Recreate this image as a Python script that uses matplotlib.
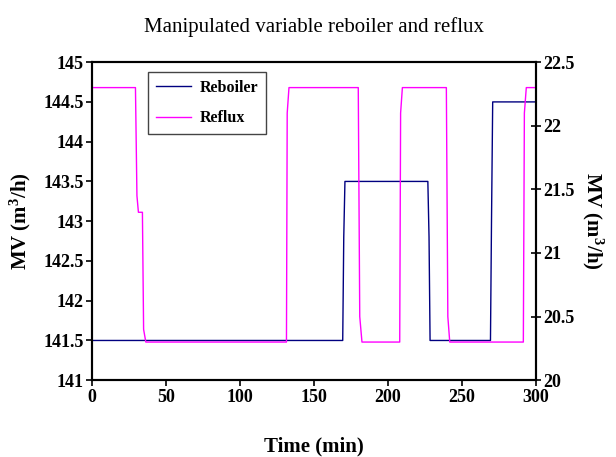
import matplotlib
matplotlib.use("Agg")
import matplotlib.pyplot as plt

# Data
reb_t = [0, 169.5, 170.2, 171, 227, 227.8, 228.5, 269.3, 270, 270.8, 300]
reb_v = [141.5, 141.5, 142.8, 143.5, 143.5, 142.8, 141.5, 141.5, 143.0, 144.5, 144.5]
ref_t = [0, 29.5, 30.5, 31.5, 34.2, 35, 36.5, 131.5, 132, 133.2, 180, 181, 182.5,
         208, 208.6, 209.8, 239.5, 240.5, 241.8, 291.5, 292.2, 293.5, 300]
ref_v = [22.3, 22.3, 21.45, 21.32, 21.32, 20.4, 20.3, 20.3, 22.1, 22.3, 22.3, 20.5, 20.3,
         20.3, 22.1, 22.3, 22.3, 20.5, 20.3, 20.3, 22.1, 22.3, 22.3]
x_ticks = [0, 50, 100, 150, 200, 250, 300]
y1_ticks = [141, 141.5, 142, 142.5, 143, 143.5, 144, 144.5, 145]
y2_ticks = [20, 20.5, 21, 21.5, 22, 22.5]

plt.rcParams['font.family'] = ['Liberation Serif', 'DejaVu Serif']
plt.rcParams['mathtext.fontset'] = 'custom'
plt.rcParams['mathtext.rm'] = 'Liberation Serif'
plt.rcParams['mathtext.bf'] = 'Liberation Serif:bold'
plt.rcParams['mathtext.it'] = 'Liberation Serif:italic'

fig = plt.figure(figsize=(6.16, 4.57), dpi=100)
ax = fig.add_axes([0.149, 0.168, 0.721, 0.696])
ax2 = ax.twinx()

l1, = ax.plot(reb_t, reb_v, color='#000080', lw=1.0, label='Reboiler')
l2, = ax2.plot(ref_t, ref_v, color='#FF00FF', lw=1.0, label='Reflux')

ax.set_xlim(0, 300)
ax.set_ylim(141, 145)
ax2.set_ylim(20, 22.5)
ax.set_xticks(x_ticks)
ax.set_xticklabels([f"{v:g}" for v in x_ticks])
ax.set_yticks(y1_ticks)
ax.set_yticklabels([f"{v:g}" for v in y1_ticks])
ax2.set_yticks(y2_ticks)
ax2.set_yticklabels([f"{v:g}" for v in y2_ticks])

for a in (ax, ax2):
    for s in a.spines.values():
        s.set_linewidth(1.5)
    for lab in a.get_xticklabels() + a.get_yticklabels():
        lab.set_fontweight('bold')
        lab.set_fontsize(13)
ax.tick_params(axis='both', direction='out', length=4, width=1.2, pad=2)
ax2.tick_params(axis='y', direction='inout', length=7, width=1.2, pad=2)

ax.set_title('Manipulated variable reboiler and reflux', fontsize=15, pad=22)
ax.set_xlabel('Time (min)', fontsize=15, fontweight='bold', labelpad=22)
ax.set_ylabel(r'MV (m$^\mathbf{3}$/h)', fontsize=15, fontweight='bold', labelpad=7)
ax2.set_ylabel(r'MV (m$^\mathbf{3}$/h)', fontsize=15, fontweight='bold', rotation=270, labelpad=22)

leg = ax.legend(handles=[l1, l2], loc='upper left', bbox_to_anchor=(0.126, 0.969),
                frameon=True, fancybox=False, edgecolor='#444444', framealpha=1,
                prop={'weight': 'bold', 'size': 11.5}, handlelength=2.2,
                handletextpad=0.55, borderpad=0.5, labelspacing=0.9, borderaxespad=0)
leg.get_frame().set_linewidth(1.0)

fig.savefig('out.png', dpi=100)
